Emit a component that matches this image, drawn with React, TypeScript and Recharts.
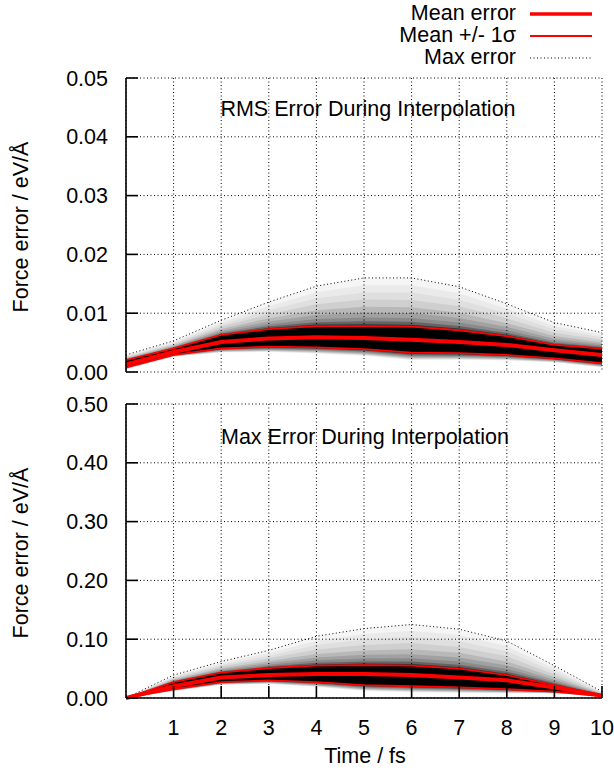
import { ComposedChart, Area, Line, XAxis, YAxis, CartesianGrid } from "recharts";

// time axis, fs
const times = [0, 1, 2, 3, 4, 5, 6, 7, 8, 9, 10];
const xTicks = [1, 2, 3, 4, 5, 6, 7, 8, 9, 10];

// RMS error panel (eV/Å)
const rmsMean = [0.0013, 0.0034, 0.0051, 0.0057, 0.0059, 0.0058, 0.0055, 0.0051, 0.0046, 0.0037, 0.0029];
const rmsUpper = [0.002, 0.004, 0.0063, 0.0073, 0.0078, 0.0078, 0.0077, 0.0071, 0.0061, 0.0046, 0.004];
const rmsLower = [0.0008, 0.0029, 0.004, 0.0043, 0.0042, 0.0039, 0.0033, 0.0032, 0.0029, 0.0023, 0.0015];
const rmsMax = [0.0029, 0.0053, 0.0088, 0.0119, 0.0146, 0.016, 0.016, 0.0145, 0.0116, 0.0084, 0.0067];
const rmsTicks = [0, 0.01, 0.02, 0.03, 0.04, 0.05];

// max error panel (eV/Å)
const maxMean = [0, 0.02, 0.035, 0.039, 0.041, 0.041, 0.039, 0.035, 0.03, 0.018, 0.004];
const maxUpper = [0, 0.027, 0.043, 0.051, 0.055, 0.056, 0.055, 0.05, 0.039, 0.022, 0.005];
const maxLower = [0, 0.015, 0.027, 0.03, 0.027, 0.022, 0.02, 0.018, 0.015, 0.011, 0.003];
const maxMax = [0, 0.039, 0.062, 0.081, 0.105, 0.118, 0.125, 0.117, 0.097, 0.055, 0.011];
const maxTicks = [0, 0.1, 0.2, 0.3, 0.4, 0.5];

const FONT = '"Liberation Sans", Arial, Helvetica, sans-serif';
const FS = 21.5;

// translucent layers stacked to fake the density cloud:
// top = share of the gap between +1σ and max, below = share of the 1σ spread under the lower line
const cloud = [
  { key: "c0", top: 1, below: 0.3, opacity: 0.04 },
  { key: "c1", top: 0.85, below: 0.28, opacity: 0.042 },
  { key: "c2", top: 0.7, below: 0.26, opacity: 0.045 },
  { key: "c3", top: 0.55, below: 0.24, opacity: 0.07 },
  { key: "c4", top: 0.4, below: 0.21, opacity: 0.11 },
  { key: "c5", top: 0.28, below: 0.18, opacity: 0.125 },
  { key: "c6", top: 0.18, below: 0.14, opacity: 0.14 },
  { key: "c7", top: 0.1, below: 0.1, opacity: 0.27 },
  { key: "c8", top: 0.04, below: 0.05, opacity: 0.5 },
  { key: "core", top: 0, below: 0, opacity: 1 },
];

function buildRows(mean: number[], upper: number[], lower: number[], max: number[]) {
  return times.map((t, i) => {
    const row: any = { t, mean: mean[i], upper: upper[i], lower: lower[i], max: max[i] };
    const spread = upper[i] - lower[i];
    const above = max[i] - upper[i];
    cloud.forEach((c) => {
      row[c.key] = [Math.max(0, lower[i] - spread * c.below), upper[i] + above * c.top];
    });
    return row;
  });
}

const rmsRows = buildRows(rmsMean, rmsUpper, rmsLower, rmsMax);
const maxRows = buildRows(maxMean, maxUpper, maxLower, maxMax);

const tickStyle = { fontFamily: FONT, fontSize: FS, fill: "#000" };
const axisLine = { stroke: "#000", strokeWidth: 1.6 };

function Panel({ rows, yTicks, height, margin, xHeight, showX }: any) {
  const yMax = yTicks[yTicks.length - 1];
  return (
    <ComposedChart width={614} height={height} data={rows} margin={margin} style={{ overflow: "visible" }}>
      <CartesianGrid stroke="#000" strokeDasharray="1 2.5" strokeWidth={1} xAxisId="b" yAxisId="l" />
      {cloud.map((c) => (
        <Area
          key={c.key}
          xAxisId="b"
          yAxisId="l"
          type="linear"
          dataKey={c.key}
          stroke="none"
          fill="#000"
          fillOpacity={c.opacity}
          dot={false}
          activeDot={false}
          isAnimationActive={false}
        />
      ))}
      <Line xAxisId="b" yAxisId="l" type="linear" dataKey="max" stroke="#000" strokeWidth={1} strokeDasharray="1 2.5" dot={false} activeDot={false} isAnimationActive={false} />
      <Line xAxisId="b" yAxisId="l" type="linear" dataKey="upper" stroke="#ff0000" strokeWidth={1.8} dot={false} activeDot={false} isAnimationActive={false} />
      <Line xAxisId="b" yAxisId="l" type="linear" dataKey="lower" stroke="#ff0000" strokeWidth={1.8} dot={false} activeDot={false} isAnimationActive={false} />
      <Line xAxisId="b" yAxisId="l" type="linear" dataKey="mean" stroke="#ff0000" strokeWidth={4} dot={false} activeDot={false} isAnimationActive={false} />
      <XAxis
        xAxisId="b"
        dataKey="t"
        type="number"
        domain={[0, 10]}
        ticks={xTicks}
        interval={0}
        height={xHeight}
        tickSize={-12}
        tickMargin={34}
        axisLine={axisLine}
        tickLine={axisLine}
        tick={tickStyle}
        tickFormatter={(v: number) => (showX ? String(v) : "")}
      />
      <XAxis
        xAxisId="t"
        orientation="top"
        dataKey="t"
        type="number"
        domain={[0, 10]}
        ticks={xTicks}
        interval={0}
        height={0}
        tickSize={-12}
        axisLine={axisLine}
        tickLine={axisLine}
        tickFormatter={() => ""}
      />
      <YAxis
        yAxisId="l"
        type="number"
        domain={[0, yMax]}
        ticks={yTicks}
        interval={0}
        width={126}
        tickSize={-12}
        tickMargin={30}
        axisLine={axisLine}
        tickLine={axisLine}
        tick={tickStyle}
        tickFormatter={(v: number) => v.toFixed(2)}
      />
      <YAxis
        yAxisId="r"
        orientation="right"
        type="number"
        domain={[0, yMax]}
        ticks={yTicks}
        interval={0}
        width={0}
        tickSize={-12}
        axisLine={axisLine}
        tickLine={axisLine}
        tickFormatter={() => ""}
      />
    </ComposedChart>
  );
}

const textBase: any = { position: "absolute", fontFamily: FONT, fontSize: FS, color: "#000", whiteSpace: "nowrap", lineHeight: 1 };

function Centered({ x, y, children, rotate }: any) {
  return (
    <div
      style={{
        ...textBase,
        left: x,
        top: y,
        transform: `translate(-50%, -50%)${rotate ? " rotate(-90deg)" : ""}`,
      }}
    >
      {children}
    </div>
  );
}

function LegendRow({ y, label, stroke }: any) {
  return (
    <>
      <div style={{ ...textBase, lineHeight: 0.9, right: 614 - 516, top: y, transform: "translateY(-50%)" }}>{label}</div>
      <svg style={{ position: "absolute", left: 528, top: y - 6 }} width={66} height={12}>
        {stroke}
      </svg>
    </>
  );
}

export default function App() {
  return (
    <div style={{ position: "absolute", left: 0, top: 0, width: 614, height: 775, background: "#fff", overflow: "hidden" }}>
      <div style={{ position: "absolute", left: 0, top: 0 }}>
        <Panel rows={rmsRows} yTicks={rmsTicks} height={392} margin={{ top: 78, right: 12, left: 0, bottom: 20 }} xHeight={0} showX={false} />
      </div>
      <div style={{ position: "absolute", left: 0, top: 380 }}>
        <Panel rows={maxRows} yTicks={maxTicks} height={395} margin={{ top: 24, right: 12, left: 0, bottom: 0 }} xHeight={77} showX={true} />
      </div>

      <Centered x={368} y={110}>RMS Error During Interpolation</Centered>
      <Centered x={365} y={438}>Max Error During Interpolation</Centered>
      <Centered x={22} y={227} rotate>Force error / eV/Å</Centered>
      <Centered x={22} y={553} rotate>Force error / eV/Å</Centered>
      <Centered x={365} y={757}>Time / fs</Centered>

      <LegendRow y={14} label="Mean error" stroke={<line x1={2} x2={64} y1={6} y2={6} stroke="#ff0000" strokeWidth={3.5} />} />
      <LegendRow y={36} label="Mean +/- 1σ" stroke={<line x1={2} x2={64} y1={6} y2={6} stroke="#ff0000" strokeWidth={1.8} />} />
      <LegendRow y={58} label="Max error" stroke={<line x1={2} x2={64} y1={6} y2={6} stroke="#000" strokeWidth={1} strokeDasharray="1 2.5" />} />
    </div>
  );
}
